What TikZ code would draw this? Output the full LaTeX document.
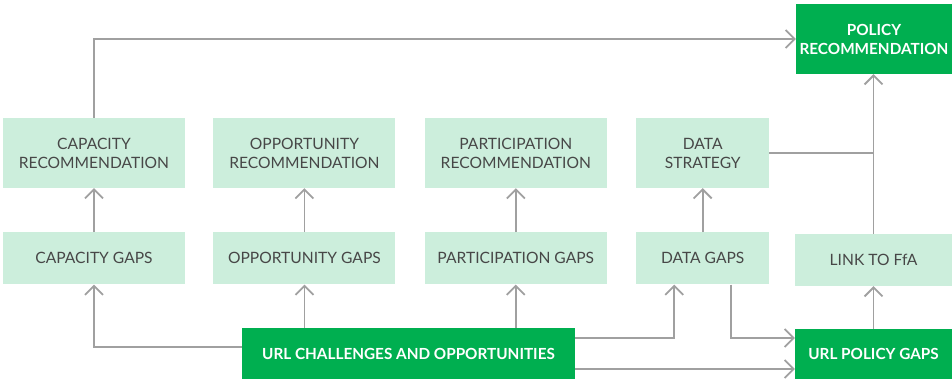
\documentclass[tikz,border=0pt]{standalone}
\usepackage{fontspec}
\setmainfont{Lato}
\usetikzlibrary{positioning, arrows.meta}
\definecolor{lightbox}{HTML}{CCEEDC}
\definecolor{darkbox}{HTML}{00AF50}
\definecolor{linegray}{HTML}{A0A0A0}
\definecolor{textgray}{HTML}{474747}

\begin{document}
\begin{tikzpicture}[x=1pt, y=-1pt,
		Rec/.style={rectangle, fill=lightbox, text=textgray, minimum width=182pt, minimum height=70pt, inner sep=0pt, align=center, font=\fontsize{15.6}{19}\selectfont},
		Gap/.style={Rec, minimum height=52pt},
		Key/.style={rectangle, fill=darkbox, text=white, inner sep=0pt, align=center, font=\fontsize{15.3}{19}\selectfont\bfseries},
		flow/.style={-{Straight Barb[length=9pt, width=18pt]}, linegray, line width=1.8pt},
		joint/.style={linegray, line width=1.8pt},
		node distance=44pt and 29pt,
		]

		\useasboundingbox (0,0) rectangle (952,379);

		\node[Rec] (CapRec) at (94,153) {CAPACITY\\RECOMMENDATION};
		\node[Rec] (OppRec) [right=28pt of CapRec] {OPPORTUNITY\\RECOMMENDATION};
		\node[Rec] (PartRec) [right=of OppRec] {PARTICIPATION\\RECOMMENDATION};
		\node[Rec, minimum width=133pt] (DataStrat) [right=of PartRec] {DATA\\STRATEGY};

		\node[Gap] (CapGaps) [below=of CapRec] {CAPACITY GAPS};
		\node[Gap] (OppGaps) [below=of OppRec] {OPPORTUNITY GAPS};
		\node[Gap] (PartGaps) [below=of PartRec] {PARTICIPATION GAPS};
		\node[Gap, minimum width=133pt] (DataGaps) [below=of DataStrat] {DATA GAPS};

		\node[Key, minimum width=156pt, minimum height=70pt] (PolRec) at (874,39) {POLICY\\RECOMMENDATION};
		\node[Gap, minimum width=157pt] (Link) at (873.5,260) {LINK TO FfA};
		\node[Key, minimum width=157pt, minimum height=50pt] (PolGaps) at (873.5,354) {URL POLICY GAPS};
		\node[Key, minimum width=333pt, minimum height=51pt] (URL) at (408.5,353.5) {URL CHALLENGES AND OPPORTUNITIES};

		% gaps up to recommendations
		\foreach \from/\to in {CapGaps/CapRec, OppGaps/OppRec, PartGaps/PartRec, DataGaps/DataStrat, PolGaps/Link}
		\draw[flow] (\from) -- (\to);

		\draw[flow] (CapRec.north) |- (PolRec.west);
		\draw[flow] (Link.north) -- (Link.north |- PolRec.south);
		\draw[joint] (DataStrat.east) -- (DataStrat.east -| Link.north);

		% out of the challenges
		\draw[flow] ([yshift=6.5pt]URL.west) -| (CapGaps.south);
		\draw[flow] (URL.north -| OppGaps.south) -- (OppGaps.south);
		\draw[flow] (URL.north -| PartGaps.south) -- (PartGaps.south);
		\draw[flow] ([yshift=15.5pt]URL.east) -| ([xshift=-28.5pt]DataGaps.south);
		\draw[flow] ([yshift=-15.5pt]URL.east) -- ([yshift=-15.5pt]URL.east -| PolGaps.west);
		\draw[flow] ([xshift=28.5pt]DataGaps.south) |- ([yshift=15.5pt]URL.east -| PolGaps.west);

\end{tikzpicture}
\end{document}
